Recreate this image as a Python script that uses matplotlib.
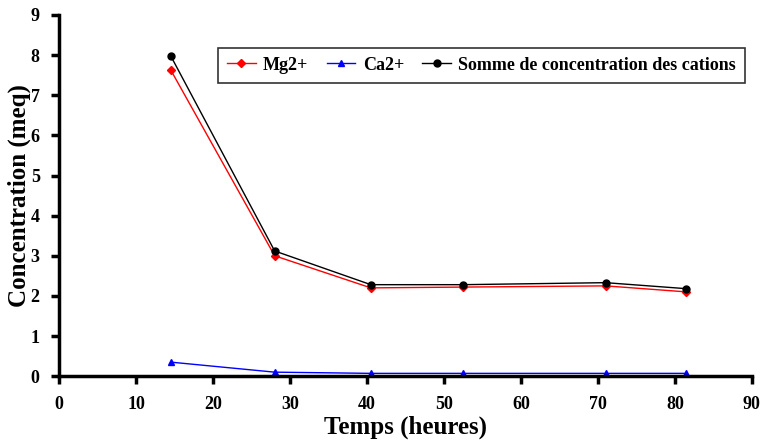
import matplotlib.pyplot as plt

# données
temps = [14.5, 28, 40.5, 52.5, 71, 81.5]
mg = [7.63, 3.0, 2.2, 2.22, 2.25, 2.1]
ca = [0.35, 0.1, 0.07, 0.07, 0.07, 0.07]
somme = [7.98, 3.12, 2.28, 2.28, 2.33, 2.18]

plt.rcParams['font.family'] = ['Liberation Serif', 'DejaVu Serif']

fig = plt.figure(figsize=(7.68, 4.41), dpi=100)
ax = fig.add_axes([0.077, 0.147, 0.902, 0.819])

ax.plot(temps, mg, color='red', marker='D', markersize=4, lw=1, label='Mg2+')
ax.plot(temps, ca, color='blue', marker='^', markersize=5, lw=1, label='Ca2+')
ax.plot(temps, somme, color='black', marker='o', markersize=5, lw=1,
        label='Somme de concentration des cations')

ax.set_xlim(0, 90)
ax.set_ylim(0, 9)
ax.set_xticks(range(0, 91, 10))
ax.set_yticks(range(0, 10))

for s in ['top', 'right']:
    ax.spines[s].set_visible(False)
for s in ['left', 'bottom']:
    ax.spines[s].set_linewidth(2.5)
ax.tick_params(direction='out', width=2.5, length=6, labelsize=13, pad=8)
for lab in ax.get_xticklabels() + ax.get_yticklabels():
    lab.set_fontweight('bold')

ax.set_xlabel('Temps (heures)', fontsize=18, fontweight='bold', labelpad=2)
ax.set_ylabel('Concentration (meq)', fontsize=18, fontweight='bold')
ax.yaxis.set_label_coords(-0.04, 0.5)

leg = ax.legend(loc='upper right', bbox_to_anchor=(0.99, 0.91), ncol=3,
                fancybox=False, edgecolor='black', handlelength=1.6,
                handletextpad=0.4, columnspacing=1.0, borderpad=0.5,
                borderaxespad=0, prop={'weight': 'bold', 'size': 13})
leg.get_frame().set_linewidth(1.2)

fig.savefig('out.png', dpi=100)
